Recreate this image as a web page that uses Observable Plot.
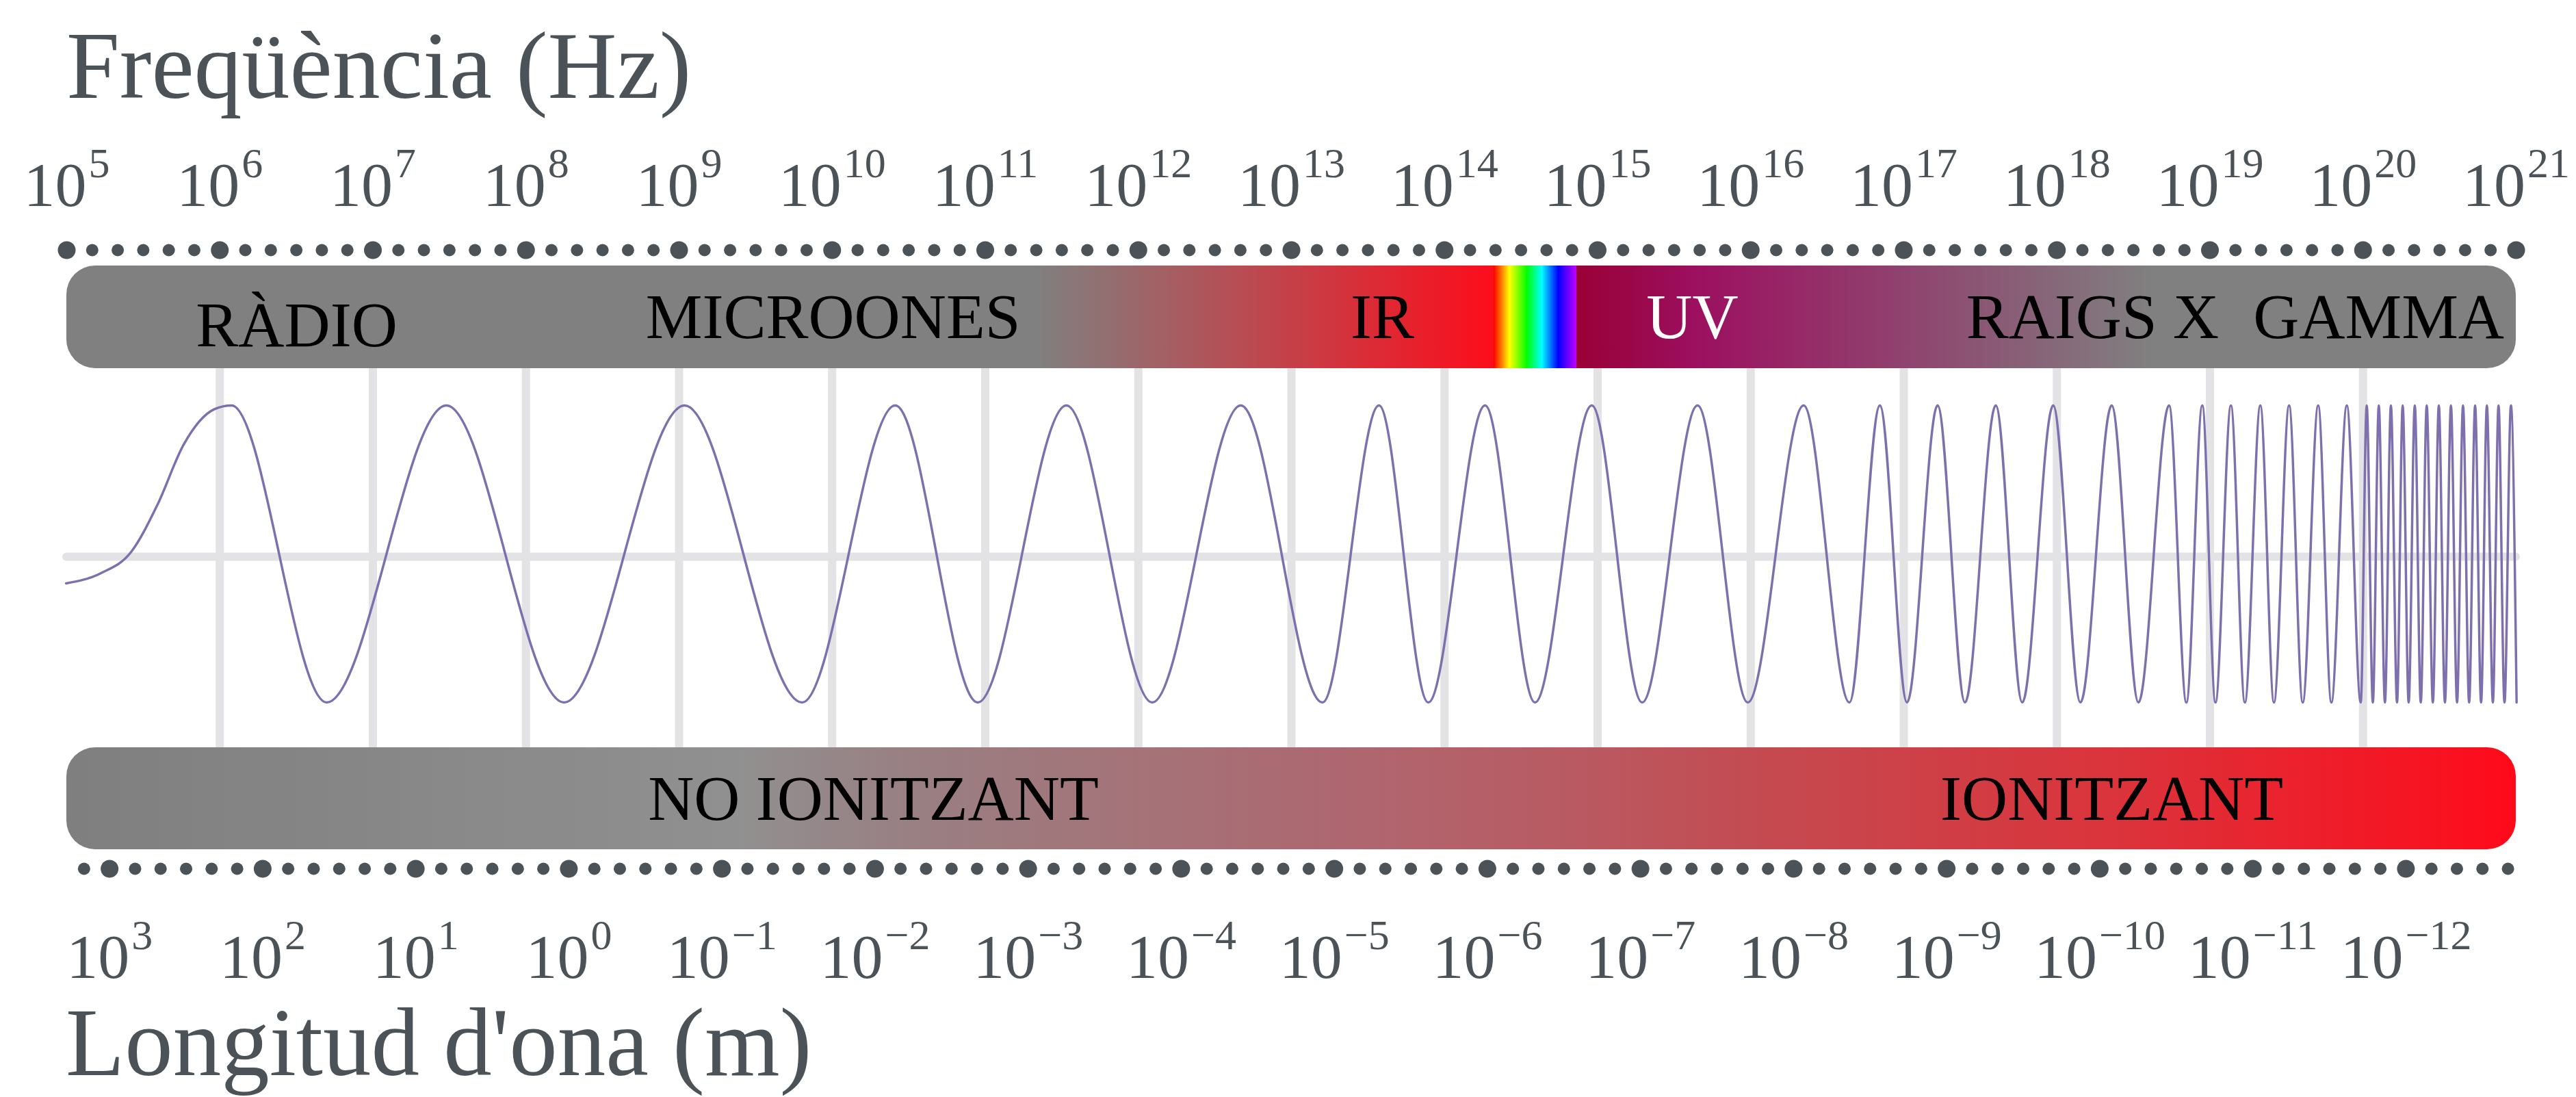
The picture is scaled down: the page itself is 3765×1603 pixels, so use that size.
<!DOCTYPE html>
<html>
<head>
<meta charset="utf-8">
<script src="https://cdn.jsdelivr.net/npm/d3@7"></script>
<script src="https://cdn.jsdelivr.net/npm/@observablehq/plot@0.6"></script>
<style>
  html, body { margin: 0; padding: 0; background: #ffffff; }
  #wrap { position: relative; width: 3765px; height: 1603px; overflow: hidden;
          font-family: "Liberation Serif", serif; color: #4b5358; }
  #title { position: absolute; left: 97px; top: 26px; font-size: 140px; line-height: 1; white-space: nowrap; }
  #chart { position: absolute; left: 0; top: 200px; }
  #caption { position: absolute; left: 96px; top: 1453px; font-size: 141px; line-height: 1; white-space: nowrap; }
</style>
</head>
<body>
<div id="wrap">
  <div id="title">Freqüència (Hz)</div>
  <div id="chart"></div>
  <div id="caption">Longitud d'ona (m)</div>
</div>
<script>
// ---------------- DATA ----------------
// frequency axis: exponents of 10 (Hz)
const freqExponents = [5, 6, 7, 8, 9, 10, 11, 12, 13, 14, 15, 16, 17, 18, 19, 20, 21];
// wavelength axis: exponents of 10 (m)
const wavelengthExponents = [3, 2, 1, 0, -1, -2, -3, -4, -5, -6, -7, -8, -9, -10, -11, -12];
// alignment of the wavelength axis against log10(Hz) as drawn: log10(Hz) = offset - exponent
const wavelengthOffset = 8.28;

// spectrum bands (top bar), centres in log10(Hz)
const bandNames   = ["RÀDIO", "MICROONES", "IR", "UV", "RAIGS X", "GAMMA"];
const bandCenters = [6.502, 10.006, 13.594, 15.619, 18.233, 20.102];
// visible light strip, log10(Hz)
const visibleRange = [14.323, 14.864];
// ionisation bands (bottom bar)
const ionNames   = ["NO IONITZANT", "IONITZANT"];
const ionCenters = [10.269, 18.359];

// wave: position in log10(Hz) and amplitude (-1 trough, +1 crest)
const waveX = [
  4.996, 5.222, 5.421, 5.593, 5.764, 5.963, 6.077,
  6.698, 7.480, 8.249, 9.036, 9.804, 10.412, 10.951, 11.530, 12.091, 12.669,
  13.203, 13.572, 13.894, 14.265, 14.591, 14.962, 15.291, 15.653, 15.981, 16.346,
  16.645, 16.844, 17.021, 17.221, 17.400, 17.601, 17.774, 17.976, 18.154, 18.358,
  18.533, 18.733, 18.846, 18.950, 19.036, 19.137, 19.228, 19.329, 19.418, 19.517,
  19.606, 19.707, 19.793, 19.894, 19.985, 20.024, 20.064, 20.103, 20.143, 20.182,
  20.222, 20.259, 20.298, 20.338, 20.377, 20.416, 20.456, 20.495, 20.535, 20.574,
  20.614, 20.653, 20.693, 20.732, 20.771, 20.809, 20.848, 20.885, 20.924, 20.966,
  21.003
];
const waveY = [
  -0.198, -0.13, 0.014, 0.332, 0.737, 0.974, 1,
  -1, 1, -1, 1, -1, 1, -1, 1, -1, 1,
  -1, 1, -1, 1, -1, 1, -1, 1, -1, 1,
  -1, 1, -1, 1, -1, 1, -1, 1, -1, 1,
  -1, 1, -1, 1, -1, 1, -1, 1, -1, 1,
  -1, 1, -1, 1, -1, 1, -1, 1, -1, 1,
  -1, 1, -1, 1, -1, 1, -1, 1, -1, 1,
  -1, 1, -1, 1, -1, 1, -1, 1, -1, 1,
  -1
];

// ---------------- LAYOUT & STYLE ----------------
// vertical rows, in wave-amplitude units (y scale: -1..1)
const ROW = {
  freqLabels: 2.3456, freqDots: 2.0461,
  topBarTop: 1.9401, topBarBottom: 1.2488, topText: 1.4562,
  centerLine: -0.0184,
  botBarTop: -1.3041, botBarBottom: -1.9908, botText: -1.7926,
  wlDots: -2.1198, wlLabels: -2.8571
};
const INK = "#4b5358";
const GRID = "#e3e3e6";
const WAVE = "#7e70ad";
const topStops = [[5, "#808080"], [11.337, "#808080"], [14.323, "#fc0d1b"], [14.864, "#990036"],
                  [15.65, "#9c1060"], [18.622, "#808080"], [21, "#808080"]];
const botStops = [[5, "#7f7f7f"], [9.384, "#919090"], [10.377, "#988184"], [11.86, "#a37479"],
                  [13.34, "#ae6770"], [14.823, "#b95a62"], [16.186, "#c5494f"], [18.51, "#dc323a"], [21, "#ff0a1a"]];
const rainbowStops = [[0, "#ff0000"], [0.1, "#ff8000"], [0.19, "#ffff00"], [0.4, "#00ff00"],
                      [0.58, "#00ffff"], [0.78, "#0000ff"], [0.92, "#8000ff"], [1, "#c000ff"]];

// ---------------- DERIVED TABLES ----------------
const wave = waveX.map((x, i) => ({x, y: waveY[i]}));
const bands = bandNames.map((name, i) => ({name, x: bandCenters[i]}));
const ions = ionNames.map((name, i) => ({name, x: ionCenters[i]}));
const fmtExp = e => (e < 0 ? "\u2212" + (-e) : String(e));
const freqTicks = freqExponents.map(e => ({x: e, label: "10|" + fmtExp(e)}));
const wlTicks = wavelengthExponents.map(e => ({x: wavelengthOffset - e, label: "10|" + fmtExp(e)}));
const gridDecades = freqExponents.slice(1, -1);
const topSmall = [];
freqExponents.slice(0, -1).forEach(k => { for (let j = 1; j <= 5; j++) topSmall.push(k + j / 6); });
const wlBig = wlTicks.map(d => d.x);
const wlSmall = [];
[wlBig[0] - 1, ...wlBig].forEach(b => { for (let j = 1; j <= 5; j++) { const u = b + j / 6; if (u >= 5 && u <= 21) wlSmall.push(u); } });

const FONT = "Liberation Serif";
const labelOpts = {fontFamily: FONT, fontSize: 93, lineAnchor: "bottom", textAnchor: "middle"};

const chart = Plot.plot({
  width: 3765, height: 1260,
  marginLeft: 0, marginRight: 0, marginTop: 0, marginBottom: 0,
  x: {domain: [5, 21], range: [97, 3677], axis: null},
  y: {domain: [-1, 1], range: [826, 392], axis: null},
  style: {fontFamily: FONT, background: "transparent", overflow: "visible"},
  marks: [
    Plot.ruleX(gridDecades, {x: d => d, y1: ROW.topBarBottom, y2: ROW.botBarTop, stroke: GRID, strokeWidth: 12}),
    Plot.ruleY([ROW.centerLine], {y: d => d, x1: 5, x2: 21, stroke: GRID, strokeWidth: 12, strokeLinecap: "round"}),
    Plot.line(wave, {x: "x", y: "y", curve: "monotone-x", stroke: WAVE, strokeWidth: 3.5}),
    Plot.rect([{a: 5, b: 21}], {x1: "a", x2: "b", y1: ROW.topBarTop, y2: ROW.topBarBottom, fill: "url(#gradTop)", rx: 42}),
    Plot.rect([{a: visibleRange[0], b: visibleRange[1]}], {x1: "a", x2: "b", y1: ROW.topBarTop, y2: ROW.topBarBottom, fill: "url(#gradVis)"}),
    Plot.rect([{a: 5, b: 21}], {x1: "a", x2: "b", y1: ROW.botBarTop, y2: ROW.botBarBottom, fill: "url(#gradBot)", rx: 42}),
    Plot.text(bands.filter(d => d.name !== "UV" && d.name !== "RÀDIO"), {...labelOpts, x: "x", y: ROW.topText, text: "name", fill: "#000000"}),
    Plot.text(bands.filter(d => d.name === "RÀDIO"), {...labelOpts, x: "x", y: ROW.topText, text: "name", fill: "#000000", dy: 12}),
    Plot.text(bands.filter(d => d.name === "UV"), {...labelOpts, x: "x", y: ROW.topText, text: "name", fill: "#ffffff"}),
    Plot.text(ions, {...labelOpts, x: "x", y: ROW.botText, text: "name", fill: "#000000"}),
    Plot.dot(topSmall, {x: d => d, y: ROW.freqDots, r: 9, fill: INK, stroke: null}),
    Plot.dot(freqExponents, {x: d => d, y: ROW.freqDots, r: 13, fill: INK, stroke: null}),
    Plot.dot(wlSmall, {x: d => d, y: ROW.wlDots, r: 9, fill: INK, stroke: null}),
    Plot.dot(wlBig, {x: d => d, y: ROW.wlDots, r: 13, fill: INK, stroke: null}),
    Plot.text(freqTicks, {x: "x", y: ROW.freqLabels, text: "label", fill: INK, fontFamily: FONT, fontSize: 92, lineAnchor: "bottom"}),
    Plot.text(wlTicks, {x: "x", y: ROW.wlLabels, text: "label", fill: INK, fontFamily: FONT, fontSize: 92, lineAnchor: "bottom"})
  ]
});

// gradients used by the bars
const svg = d3.select(chart.tagName.toLowerCase() === "svg" ? chart : chart.querySelector("svg"));
const defs = svg.insert("defs", ":first-child");
function addGrad(id, stops, toOffset) {
  const g = defs.append("linearGradient").attr("id", id).attr("x1", 0).attr("x2", 1).attr("y1", 0).attr("y2", 0);
  stops.forEach(([o, c]) => g.append("stop").attr("offset", toOffset(o)).attr("stop-color", c));
}
addGrad("gradTop", topStops, u => (u - 5) / 16);
addGrad("gradBot", botStops, u => (u - 5) / 16);
addGrad("gradVis", rainbowStops, o => o);

// superscript exponents in tick labels
svg.selectAll("text").each(function () {
  const t = this.textContent;
  if (t.indexOf("|") >= 0) {
    const [base, ex] = t.split("|");
    const s = d3.select(this);
    s.text(base);
    s.append("tspan").attr("dx", 3).attr("dy", -42).attr("font-size", 62).text(ex);
  }
});

document.getElementById("chart").appendChild(chart);
</script>
</body>
</html>
